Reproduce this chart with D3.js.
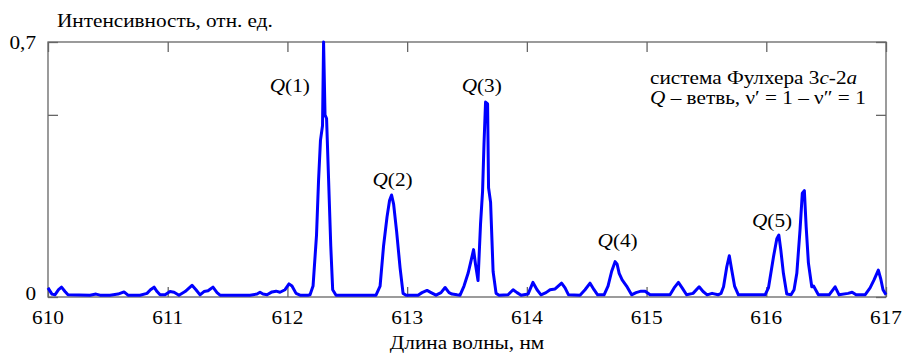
<!DOCTYPE html>
<html><head><meta charset="utf-8">
<script src="https://cdn.jsdelivr.net/npm/d3@7"></script>
<style>
html,body{margin:0;padding:0;background:#fff;}
</style></head>
<body>
<svg id="chart" width="904" height="355"></svg>
<script>
// Wavelength (nm) and intensity (rel. units)
const wavelength = [
610.000,610.033,610.058,610.088,610.113,610.142,610.167,610.351,610.401,610.434,610.518,610.585,610.635,610.668,
610.769,610.827,610.856,610.886,610.911,610.936,610.978,611.019,611.053,611.094,611.145,611.203,611.236,611.270,
611.303,611.337,611.378,611.412,611.437,611.688,611.746,611.771,611.796,611.830,611.871,611.905,611.938,611.980,
612.013,612.038,612.072,612.105,612.172,
612.189,612.214,612.243,612.260,612.276,612.293,612.302,612.314,612.327,612.342,612.362,612.378,612.406,
612.740,612.774,612.803,612.832,612.853,612.870,612.887,612.912,612.941,612.966,612.991,
613.091,613.124,613.166,613.200,613.241,613.283,613.317,613.350,613.375,613.417,
613.442,613.475,613.509,613.534,613.555,613.571,613.592,613.613,613.630,613.642,613.655,613.672,613.680,613.697,613.718,613.743,613.768,
613.843,613.885,613.918,613.952,614.010,614.051,614.085,614.118,614.160,614.194,614.236,614.290,614.319,614.348,
614.444,614.486,614.528,614.561,614.591,614.645,614.678,614.708,614.737,614.754,614.771,614.796,614.833,614.875,
614.912,614.954,614.988,615.029,615.196,615.230,615.266,615.297,615.334,615.388,615.439,615.472,615.506,615.547,
615.597,615.622,615.643,615.670,615.691,615.711,615.735,615.767,615.990,616.018,616.060,616.088,616.105,616.121,
616.143,616.171,616.207,616.232,616.255,616.282,616.301,616.318,616.333,616.352,616.380,616.395,616.412,616.435,
616.525,616.575,616.608,616.683,616.717,616.750,616.825,616.867,616.900,616.936,616.956,616.975,617.000
];
const intensity = [
0.025,0.008,0.006,0.020,0.027,0.015,0.006,0.005,0.008,0.005,0.005,0.008,0.014,0.005,
0.005,0.010,0.020,0.027,0.015,0.006,0.006,0.015,0.013,0.005,0.015,0.032,0.020,0.006,
0.015,0.017,0.027,0.012,0.005,0.005,0.008,0.013,0.008,0.006,0.014,0.016,0.013,0.020,
0.036,0.030,0.010,0.005,0.005,
0.006,0.030,0.170,0.320,0.430,0.470,0.700,0.500,0.490,0.340,0.140,0.020,0.005,
0.005,0.030,0.140,0.220,0.265,0.280,0.255,0.180,0.080,0.010,0.005,
0.005,0.012,0.018,0.012,0.005,0.012,0.026,0.012,0.008,0.006,
0.005,0.030,0.065,0.100,0.130,0.090,0.045,0.200,0.290,0.420,0.535,0.530,0.300,0.260,0.070,0.010,0.005,
0.006,0.020,0.012,0.005,0.008,0.040,0.020,0.006,0.012,0.020,0.022,0.038,0.025,0.006,
0.005,0.020,0.038,0.020,0.006,0.006,0.030,0.070,0.097,0.090,0.065,0.047,0.030,0.006,
0.012,0.016,0.016,0.006,0.006,0.025,0.040,0.025,0.006,0.010,0.028,0.015,0.006,0.010,
0.006,0.010,0.028,0.083,0.113,0.075,0.030,0.006,0.006,0.025,0.110,0.160,0.170,0.130,
0.065,0.008,0.006,0.020,0.065,0.185,0.285,0.292,0.193,0.093,0.028,0.030,0.020,0.006,
0.006,0.028,0.006,0.010,0.013,0.006,0.006,0.025,0.047,0.074,0.050,0.020,0.006
];
const xTicks = [610,611,612,613,614,615,616,617];
const yTicks = [0,0.5,0.7];
const yTickLabels = [{v:0,t:"0"},{v:0.7,t:"0,7"}];
const peakLabels = [
  {n:"1", x:612.02, y:0.563},
  {n:"2", x:612.878, y:0.305},
  {n:"3", x:613.623, y:0.563},
  {n:"4", x:614.758, y:0.137},
  {n:"5", x:616.048, y:0.192}
];
const yTitle = "Интенсивность, отн. ед.";
const xTitle = "Длина волны, нм";

// pick an installed serif face
function hasFont(name){
  const c = document.createElement("canvas").getContext("2d");
  const s = "Интенсивность Qwmli 0123";
  let diff = false;
  ["monospace","sans-serif"].forEach(fb=>{
    c.font = `40px ${fb}`; const w0 = c.measureText(s).width;
    c.font = `40px '${name}', ${fb}`; const w1 = c.measureText(s).width;
    if (Math.abs(w0-w1) > 0.5) diff = true;
  });
  return diff;
}
const candidates = ["Liberation Serif","Times New Roman","Tinos","DejaVu Serif","Noto Serif","FreeSerif","Nimbus Roman","Nimbus Roman No9 L","Times"];
const found = candidates.find(hasFont);
const FONT = found ? `'${found}', serif` : "serif";

const data = wavelength.map((w,i)=>({w, v:intensity[i]}));
const svg = d3.select("#chart");
const L=48, R=886, T=42, B=297;
const x = d3.scaleLinear().domain([610,617]).range([L,R]);
const y = d3.scaleLinear().domain([0,0.7]).range([B,T]);
const axisColor = "#666";

svg.append("rect").attr("x",L).attr("y",T).attr("width",R-L).attr("height",B-T)
  .attr("fill","none").attr("stroke",axisColor).attr("stroke-width",1.3);

function styleAxis(g){
  g.select(".domain").remove();
  g.selectAll(".tick line").attr("stroke",axisColor).attr("stroke-width",1.3);
  g.selectAll(".tick text").remove();
}
svg.append("g").attr("transform",`translate(0,${B})`)
  .call(d3.axisBottom(x).tickValues(xTicks).tickSizeInner(-10).tickSizeOuter(0)).call(styleAxis);
svg.append("g").attr("transform",`translate(0,${T})`)
  .call(d3.axisTop(x).tickValues(xTicks).tickSizeInner(-10).tickSizeOuter(0)).call(styleAxis);
svg.append("g").attr("transform",`translate(${L},0)`)
  .call(d3.axisLeft(y).tickValues(yTicks).tickSizeInner(-10).tickSizeOuter(0)).call(styleAxis);
svg.append("g").attr("transform",`translate(${R},0)`)
  .call(d3.axisRight(y).tickValues(yTicks).tickSizeInner(-10).tickSizeOuter(0)).call(styleAxis);

// measure stretch so the title matches its width in the picture (216 px)
const probe = svg.append("text").attr("font-family",FONT).attr("font-size",18).text(yTitle);
const natural = probe.node().getComputedTextLength();
probe.remove();
const SX = Math.max(0.9, Math.min(1.3, 216/natural));

function txt(px,py,anchor){
  return svg.append("text").attr("transform",`translate(${px},${py}) scale(${SX},1)`)
    .attr("text-anchor",anchor).attr("font-family",FONT).attr("font-size",18).attr("fill","#000");
}
xTicks.forEach(t=>{ txt(x(t),324,"middle").text(t); });
yTickLabels.forEach(d=>{ txt(36, d.v===0 ? 299.5 : 48.5, "end").text(d.t); });
txt(57,26.5,"start").text(yTitle);
txt(467,348.5,"middle").text(xTitle);

svg.append("path").datum(data)
  .attr("fill","none").attr("stroke","#0000ff").attr("stroke-width",3)
  .attr("stroke-linejoin","round")
  .attr("d", d3.line().x(d=>x(d.w)).y(d=>y(d.v)));

peakLabels.forEach(p=>{
  const t = txt(x(p.x), y(p.y), "middle");
  t.append("tspan").attr("font-style","italic").text("Q");
  t.append("tspan").text("("+p.n+")");
});

const a1 = txt(650,84,"start");
a1.append("tspan").text("система Фулхера 3");
a1.append("tspan").attr("font-style","italic").text("c");
a1.append("tspan").text("-2");
a1.append("tspan").attr("font-style","italic").text("a");
const a2 = txt(650,104,"start");
a2.append("tspan").attr("font-style","italic").text("Q");
a2.append("tspan").text(" – ветвь, ν′ = 1 – ν″ = 1");
</script>
</body></html>
